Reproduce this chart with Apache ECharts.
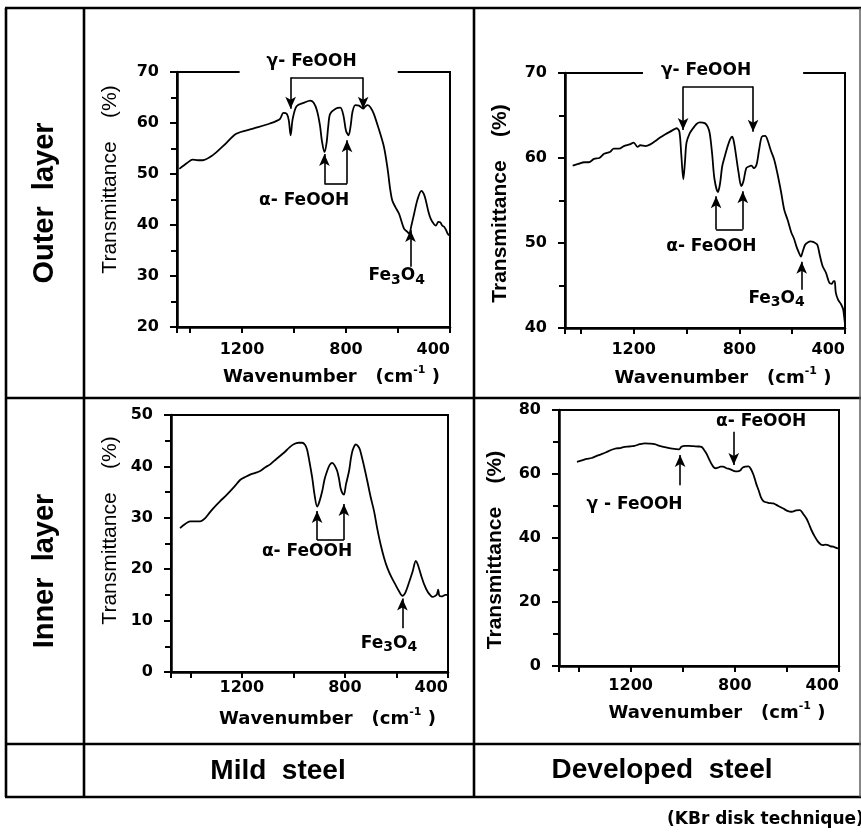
<!DOCTYPE html>
<html>
<head>
<meta charset="utf-8">
<script src="https://cdn.jsdelivr.net/npm/echarts@6/dist/echarts.min.js"></script>
<style>html,body{margin:0;padding:0;background:#fff}#c{width:861px;height:837px}</style>
</head>
<body>
<div id="c"></div>
<script>
// ---------- DATA ----------
// Outer layer, mild steel
const outerMildWn = [1441,1410,1390,1370,1351,1312,1270,1222,1157,1093,1054,1041,1028,1020,1013,1005,990,960,938,925,912,900,893,883,875,868,861,840,822,810,800,790,782,775,764,750,734,725,716,705,693,675,654,640,630,622,610,596,577,565,557,548,538,525,510,500,493,483,474,462,454,445,437,430,422,415,409,403];
const outerMildT  = [51.0,52.2,52.8,52.7,52.7,53.7,55.6,57.9,58.9,59.9,60.8,62.0,61.8,60.5,57.6,60.8,63.3,64.0,64.4,64.0,62.5,59.5,56.6,54.3,56.0,59.5,61.8,62.8,63.0,61.5,58.5,57.6,59.5,62.2,63.5,63.4,62.8,63.3,63.5,63.0,61.8,59.0,55.3,51.0,47.0,44.8,43.5,42.2,39.3,38.7,38.3,40.0,42.2,45.0,46.7,46.0,44.8,42.6,41.2,40.2,39.9,40.6,40.5,39.9,39.6,39.0,38.3,38.0];
// Outer layer, developed steel
const outerDevWn = [1431,1410,1387,1370,1350,1330,1312,1290,1275,1255,1237,1215,1200,1185,1175,1155,1137,1118,1100,1080,1062,1045,1037,1027,1020,1012,1006,1000,988,975,962,950,931,920,912,903,894,881,873,865,855,844,835,827,820,812,803,793,785,774,764,754,745,735,725,715,702,692,682,668,656,642,630,617,603,593,584,575,567,560,551,540,531,518,505,495,485,472,459,450,443,439,435,426,415,407,402,400];
const outerDevT  = [59.1,59.3,59.5,59.5,59.9,60.0,60.5,60.7,61.1,61.1,61.4,61.6,61.8,61.3,61.5,61.4,61.6,62.0,62.4,62.8,63.1,63.4,63.5,63.1,60.5,57.5,59.5,61.8,62.9,63.5,64.0,64.2,64.1,63.7,62.9,60.5,57.5,56.0,57.0,59.0,60.2,61.4,62.2,62.5,61.8,60.2,58.3,56.7,57.2,58.8,59.0,59.1,58.8,59.2,61.0,62.5,62.6,62.0,61.0,59.8,58.2,56.0,53.9,52.7,51.2,50.5,49.6,48.9,48.4,49.0,49.8,50.1,50.2,50.1,49.8,48.5,47.3,46.5,45.3,45.2,45.5,45.5,44.2,43.3,42.8,42.2,41.0,40.4];
// Inner layer, mild steel
const innerMildWn = [1440,1420,1401,1380,1362,1343,1325,1310,1285,1258,1230,1206,1185,1168,1150,1129,1110,1090,1065,1038,1015,999,980,966,955,947,938,927,918,908,900,888,879,869,859,849,840,830,823,817,810,804,796,784,777,771,764,758,750,742,728,713,700,687,675,661,648,635,620,603,590,577,565,550,537,525,518,505,492,479,468,460,450,443,438,434,425,410,402];
const innerMildT  = [28.0,28.8,29.3,29.3,29.3,29.9,31.0,31.9,33.2,34.5,36.0,37.4,38.0,38.4,38.7,39.1,39.8,40.4,41.5,42.6,43.7,44.3,44.6,44.6,44.2,43.3,41.0,37.8,34.5,32.2,33.0,35.2,37.5,39.1,40.3,40.7,40.2,39.1,37.6,35.8,34.8,34.5,36.5,39.1,41.5,43.0,43.9,44.3,44.0,43.3,40.5,37.1,34.0,31.3,28.0,24.7,22.2,20.2,18.5,16.9,15.7,14.8,15.5,17.6,19.6,21.6,21.0,18.9,17.0,15.6,14.9,14.6,14.8,15.1,16.0,14.9,14.7,15.0,15.0];
// Inner layer, developed steel
const innerDevWn = [1406,1390,1370,1350,1332,1312,1294,1275,1255,1240,1223,1205,1185,1165,1146,1128,1108,1085,1063,1040,1014,1005,992,975,960,940,928,918,909,895,883,874,864,855,845,832,819,805,790,778,770,760,747,738,728,718,709,700,690,672,652,633,614,598,582,565,550,538,525,515,506,494,480,470,461,452,442,432,423,413,404];
const innerDevT  = [63.8,64.2,64.7,65.0,65.6,66.2,66.8,67.5,68.0,68.1,68.5,68.6,68.8,69.3,69.6,69.5,69.3,68.7,68.3,67.9,67.7,68.5,68.8,68.8,68.7,68.6,68.5,67.5,66.4,64.0,62.3,61.8,62.0,62.3,62.3,61.8,61.5,61.0,60.8,61.2,62.0,62.3,62.4,61.5,59.7,57.0,55.0,52.8,51.5,51.0,50.8,50.0,49.2,48.5,48.2,48.6,48.7,47.6,46.1,44.3,42.5,40.6,38.8,38.0,37.8,37.9,37.8,37.4,37.3,37.0,36.7];

// Tick label values shown on the wavenumber axes
const wnTickLabels = [1200, 800, 400];

// Annotation arrows / brackets (data coordinates: [wavenumber, transmittance])
const outerMildArrows = [[[1013,68.9],[1013,62.8]], [[734,68.9],[734,62.8]], [[883,48.1],[883,53.9]], [[796,48.1],[796,56.6]], [[552,31.8],[552,39.0]]];
const outerMildBars   = [[[1013,68.9],[734,68.9]], [[883,48.1],[796,48.1]]];
const outerDevArrows  = [[[1013,68.4],[1013,63.3]], [[748,68.4],[748,63.1]], [[888,51.6],[888,55.5]], [[787,51.6],[787,56.1]], [[564,44.5],[564,47.8]]];
const outerDevBars    = [[[1013,68.4],[748,68.4]], [[888,51.6],[787,51.6]]];
const innerMildArrows = [[[908,25.7],[908,31.3]], [[804,25.7],[804,32.7]], [[577,8.5],[577,14.3]]];
const innerMildBars   = [[[908,25.7],[804,25.7]]];
const innerDevArrows  = [[[1010,56.5],[1010,65.9]], [[804,73.2],[804,62.8]]];
const innerDevBars    = [];

// Annotation labels
const outerMildLabels = [{text:'gamma', at:[932,72.0], gap:[27,41]}, {text:'alpha', at:[961,44.8]}, {text:'fe', at:[605,30.0]}];
const outerDevLabels  = [{text:'gamma', at:[926,70.3], gap:[18,52]}, {text:'alpha', at:[906,49.6]}, {text:'fe', at:[659,43.5]}];
const innerMildLabels = [{text:'alpha', at:[947,23.4]}, {text:'fe', at:[629,5.5]}];
const innerDevLabels  = [{text:'gamma2', at:[1185,50.3]}, {text:'alpha', at:[699,76.4]}];

// ---------- CHART ----------
const NUMF = 'DejaVu Sans';
const TXTF = 'Liberation Sans';
const BLACK = '#000';

const panels = [
  {wn: outerMildWn, t: outerMildT, arrows: outerMildArrows, bars: outerMildBars, labels: outerMildLabels,
   grid:{left:177, top:72, width:273, height:255}, xMax:1450, yMin:20, yMax:70, yInt:10,
   xLabM:15, xNameGap:38, yNameGap:56, yNamePad:[0,0,0,40], yNameBold:false},
  {wn: outerDevWn, t: outerDevT, arrows: outerDevArrows, bars: outerDevBars, labels: outerDevLabels,
   grid:{left:565, top:73, width:280, height:255}, xMax:1460, yMin:40, yMax:70, yInt:10,
   xLabM:14, xNameGap:38, yNameGap:54, yNamePad:[0,6,0,0], yNameBold:true},
  {wn: innerMildWn, t: innerMildT, arrows: innerMildArrows, bars: innerMildBars, labels: innerMildLabels,
   grid:{left:171, top:415, width:277, height:257}, xMax:1475, yMin:0, yMax:50, yInt:10,
   xLabM:8, xNameGap:35, yNameGap:50, yNamePad:[0,0,0,26], yNameBold:false},
  {wn: innerDevWn, t: innerDevT, arrows: innerDevArrows, bars: innerDevBars, labels: innerDevLabels,
   grid:{left:559, top:410, width:280, height:256}, xMax:1475, yMin:0, yMax:80, yInt:20,
   xLabM:12, xNameGap:35, yNameGap:53, yNamePad:[0,24,0,0], yNameBold:true}
];

const chart = echarts.init(document.getElementById('c'), null, {renderer:'canvas'});

const option = {
  backgroundColor:'#fff',
  animation:false,
  grid: panels.map(p => Object.assign({show:true, borderColor:BLACK, borderWidth:2, backgroundColor:'transparent', containLabel:false}, p.grid)),
  xAxis: panels.map((p,i) => ({
    gridIndex:i, type:'value', inverse:true, min:400, max:p.xMax, interval:200,
    axisLine:{show:true, onZero:false, lineStyle:{color:BLACK, width:2.5}},
    axisTick:{show:true, length:6, lineStyle:{color:BLACK, width:2}},
    splitLine:{show:false},
    axisLabel:{
      formatter: v => wnTickLabels.indexOf(v) >= 0 ? String(v) : '',
      color:BLACK, fontFamily:NUMF, fontWeight:'bold', fontSize:16, margin:p.xLabM,
      showMinLabel:true, alignMinLabel:'right'
    },
    name:'Wavenumber   (cm{s|-1} )', nameLocation:'middle', nameGap:p.xNameGap,
    nameTextStyle:{color:BLACK, fontFamily:NUMF, fontWeight:'bold', fontSize:18, lineHeight:24,
      padding:[0,0,0,36],
      rich:{s:{color:BLACK, fontFamily:NUMF, fontWeight:'bold', fontSize:11, lineHeight:12, verticalAlign:'top'}}}
  })),
  yAxis: panels.map((p,i) => ({
    gridIndex:i, type:'value', min:p.yMin, max:p.yMax, interval:p.yInt,
    axisLine:{show:true, onZero:false, lineStyle:{color:BLACK, width:2.5}},
    axisTick:{show:true, length:7, lineStyle:{color:BLACK, width:2}},
    minorTick:{show:true, splitNumber:2, length:6, lineStyle:{color:BLACK, width:2}},
    splitLine:{show:false}, minorSplitLine:{show:false},
    axisLabel:{color:BLACK, fontFamily:NUMF, fontWeight:'bold', fontSize:16, margin:18},
    name:'Transmittance    (%)', nameLocation:'middle', nameGap:p.yNameGap,
    nameTextStyle:{color:BLACK, fontFamily:TXTF, fontWeight:p.yNameBold ? 'bold' : 'normal', fontSize:21, padding:p.yNamePad}
  })),
  series: panels.map((p,i) => ({
    type:'line', xAxisIndex:i, yAxisIndex:i, clip:false,
    data: p.wn.map((w,k) => [w, p.t[k]]),
    showSymbol:false, symbol:'none', smooth:0.3,
    lineStyle:{color:BLACK, width:1.8},
    silent:true,
    markLine:{
      silent:true, animation:false,
      lineStyle:{color:BLACK, width:1.6, type:'solid'},
      label:{show:false},
      data: p.arrows.map(a => [
          {coord:a[0], symbol:'none'},
          {coord:a[1], symbol:'arrow', symbolSize:[8,12]}
        ]).concat(p.bars.map(b => [
          {coord:b[0], symbol:'none'},
          {coord:b[1], symbol:'none'}
        ]))
    }
  }))
};
chart.setOption(option);

// ---------- table frame & captions ----------
const LW = 2.6;
function hline(x1,x2,y,w){return {type:'line', z:50, shape:{x1:x1,y1:y,x2:x2,y2:y}, style:{stroke:BLACK, lineWidth:w||LW}};}
function vline(x,y1,y2,w,c){return {type:'line', z:50, shape:{x1:x,y1:y1,x2:x,y2:y2}, style:{stroke:c||BLACK, lineWidth:w||LW}};}

const graphics = [
  hline(5,861,8), hline(5,861,398), hline(5,861,744), hline(5,861,797),
  vline(6,8,797), vline(84,8,797), vline(474,8,797), vline(860,8,797,1.4,'#555'),
  {type:'text', z:60, x:45, y:203, rotation:Math.PI/2,
   style:{text:'Outer  layer', fill:BLACK, fontFamily:TXTF, fontWeight:'bold', fontSize:29, align:'center', verticalAlign:'middle'}},
  {type:'text', z:60, x:45, y:571, rotation:Math.PI/2,
   style:{text:'Inner  layer', fill:BLACK, fontFamily:TXTF, fontWeight:'bold', fontSize:29, align:'center', verticalAlign:'middle'}},
  {type:'text', z:60, x:278, y:771,
   style:{text:'Mild  steel', fill:BLACK, fontFamily:TXTF, fontWeight:'bold', fontSize:28, align:'center', verticalAlign:'middle'}},
  {type:'text', z:60, x:662, y:770,
   style:{text:'Developed  steel', fill:BLACK, fontFamily:TXTF, fontWeight:'bold', fontSize:28, align:'center', verticalAlign:'middle'}},
  {type:'text', z:60, x:667, y:820,
   style:{text:'(KBr disk technique)', fill:BLACK, fontFamily:NUMF, fontWeight:'bold', fontSize:17, align:'left', verticalAlign:'middle'}}
];

// annotation labels placed through the axes' own scales
const annFont = {fontFamily:NUMF, fontWeight:'bold', fontSize:17, fill:BLACK};
const labelTexts = {
  gamma: 'γ- FeOOH',
  gamma2: 'γ - FeOOH',
  alpha: 'α- FeOOH',
  fe: '{m|Fe}{b|3}{m|O}{b|4}'
};
panels.forEach((p,i) => {
  p.labels.forEach(l => {
    const px = chart.convertToPixel({xAxisIndex:i, yAxisIndex:i}, l.at);
    const style = Object.assign({}, annFont, {text:labelTexts[l.text], align:'center', verticalAlign:'middle'});
    let x = px[0];
    if (l.text === 'fe') {
      style.rich = {
        m:{fontFamily:NUMF, fontWeight:'bold', fontSize:17, lineHeight:22, fill:BLACK},
        b:{fontFamily:NUMF, fontWeight:'bold', fontSize:14, lineHeight:13, verticalAlign:'bottom', fill:BLACK}
      };
    }
    if (l.gap) {
      style.backgroundColor = '#fff';
      style.padding = [3, l.gap[1], 3, l.gap[0]];
      x = px[0] + (l.gap[1] - l.gap[0]) / 2;
    }
    graphics.push({type:'text', z:70, x:x, y:px[1], style:style});
  });
});

chart.setOption({graphic: graphics});
</script>
</body>
</html>
